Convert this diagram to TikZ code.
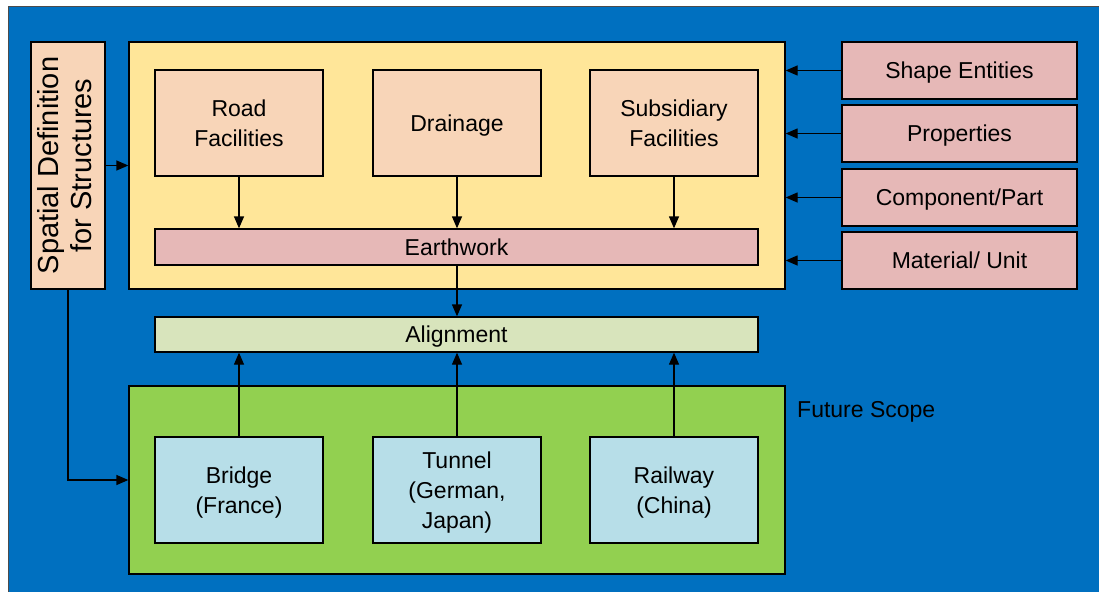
\documentclass[tikz,border=0pt]{standalone}
\usepackage{fontspec}
\setmainfont{Liberation Sans}
\usetikzlibrary{arrows.meta}
\definecolor{bgblue}{HTML}{0070C0}
\definecolor{layeryellow}{HTML}{FFE699}
\definecolor{peach}{HTML}{F8D5B8}
\definecolor{rose}{HTML}{E6B8B7}
\definecolor{sage}{HTML}{D8E4BC}
\definecolor{leaf}{HTML}{92D050}
\definecolor{sky}{HTML}{B7DEE8}
\tikzset{
  box/.style={draw=black, line width=1.3pt, rectangle, inner sep=0pt, align=center,
    text depth=0pt, font=\fontsize{23}{30}\selectfont},
  arr/.style={-{Triangle[length=12pt,width=10pt]}, line width=1.3pt},
}
\begin{document}
\begin{tikzpicture}[x=1pt,y=-1pt]
\useasboundingbox (0,0) rectangle (1099,591);
\fill[white] (0,0) rectangle (1099,591);
% backdrop
\filldraw[fill=bgblue, draw=black!70, line width=1pt] (8,7) rectangle (1105,600);

% side label
\node[box, fill=peach, minimum width=74pt, minimum height=247pt] (spatial) at (68,165.5)
  {\rotatebox{90}{\fontsize{29}{33}\selectfont\begin{tabular}{@{}c@{}}Spatial Definition\\for Structures\end{tabular}}};

% upper layer
\node[box, fill=layeryellow, minimum width=656pt, minimum height=247pt] (upper) at (457,165.5) {};
\node[box, fill=peach, minimum width=168pt, minimum height=106pt] (road) at (239,123) {Road\\Facilities};
\node[box, fill=peach, minimum width=168pt, minimum height=106pt] (drain) at (457,123) {Drainage};
\node[box, fill=peach, minimum width=168pt, minimum height=106pt] (subs) at (674,123) {Subsidiary\\Facilities};
\node[box, fill=rose, minimum width=603pt, minimum height=36pt] (earth) at (456.5,247) {Earthwork};

% alignment
\node[box, fill=sage, minimum width=603pt, minimum height=35pt] (align) at (456.5,334.5) {Alignment};

% lower layer
\node[box, fill=leaf, minimum width=656pt, minimum height=188pt] (lower) at (457,480) {};
\node[box, fill=sky, minimum width=168pt, minimum height=106pt] (bridge) at (239,490) {Bridge\\(France)};
\node[box, fill=sky, minimum width=168pt, minimum height=106pt] (tunnel) at (457,490) {Tunnel\\(German,\\Japan)};
\node[box, fill=sky, minimum width=168pt, minimum height=106pt] (rail) at (674,490) {Railway\\(China)};
\node[anchor=west, font=\fontsize{23}{30}\selectfont, inner sep=0pt, text depth=0pt] (future) at (797,409) {Future Scope};

% right column
\node[box, fill=rose, minimum width=235pt, minimum height=57pt] (shape) at (959.5,70.5) {Shape Entities};
\node[box, fill=rose, minimum width=235pt, minimum height=57pt] (prop) at (959.5,133.5) {Properties};
\node[box, fill=rose, minimum width=235pt, minimum height=57pt] (comp) at (959.5,197.5) {Component/Part};
\node[box, fill=rose, minimum width=235pt, minimum height=57pt] (mat) at (959.5,260.5) {Material/ Unit};

% connectors
\draw[arr] (road.south) -- (road.south |- earth.north);
\draw[arr] (drain.south) -- (drain.south |- earth.north);
\draw[arr] (subs.south) -- (subs.south |- earth.north);
\draw[arr] (earth.south -| drain.south) -- (align.north -| drain.south);
\draw[arr] (bridge.north) -- (bridge.north |- align.south);
\draw[arr] (tunnel.north) -- (tunnel.north |- align.south);
\draw[arr] (rail.north) -- (rail.north |- align.south);
\draw[arr] (shape.west) -- (shape.west -| upper.east);
\draw[arr] (prop.west) -- (prop.west -| upper.east);
\draw[arr] (comp.west) -- (comp.west -| upper.east);
\draw[arr] (mat.west) -- (mat.west -| upper.east);
\draw[arr] (spatial.east) -- (spatial.east -| upper.west);
\coordinate (bend) at (spatial.south |- 0,480);
\draw[arr] (spatial.south) -- (bend) -- (bend -| lower.west);
\end{tikzpicture}
\end{document}
